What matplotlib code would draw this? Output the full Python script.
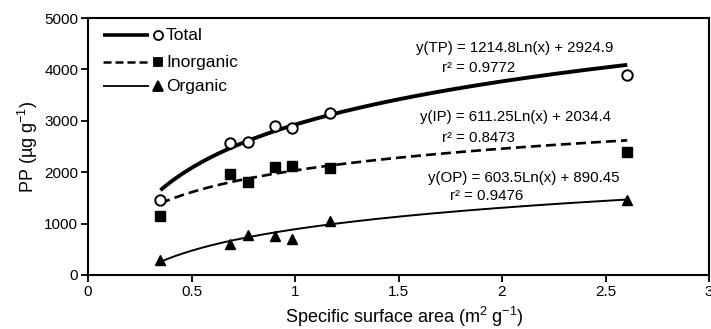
import numpy as np
import matplotlib
matplotlib.use("Agg")
import matplotlib.pyplot as plt
from matplotlib.lines import Line2D

# ---- data ----
x_ssa = [0.35, 0.686, 0.773, 0.903, 0.985, 1.169, 2.605]
total = [1450, 2570, 2590, 2900, 2860, 3150, 3900]
inorganic = [1150, 1970, 1800, 2110, 2130, 2080, 2400]
organic = [290, 600, 770, 760, 700, 1050, 1450]

# logarithmic fit coefficients (slope, intercept) from the chart labels
fit_tp = (1214.8, 2924.9)
fit_ip = (611.25, 2034.4)
fit_op = (603.5, 890.45)

labels = ["Total", "Inorganic", "Organic"]
eq_texts = ["y(TP) = 1214.8Ln(x) + 2924.9", "y(IP) = 611.25Ln(x) + 2034.4", "y(OP) = 603.5Ln(x) + 890.45"]
r2_texts = ["r² = 0.9772", "r² = 0.8473", "r² = 0.9476"]
x_ticks = [0, 0.5, 1, 1.5, 2, 2.5, 3]
x_ticklabels = ['0', '0.5', '1', '1.5', '2', '2.5', '3']
y_ticks = [0, 1000, 2000, 3000, 4000, 5000]

plt.rcParams['font.family'] = ['Liberation Sans', 'DejaVu Sans']
plt.rcParams['mathtext.fontset'] = 'custom'
plt.rcParams['mathtext.rm'] = 'Liberation Sans'

W, H = 711, 329
fig = plt.figure(figsize=(W / 100, H / 100), dpi=100)
L, R, T, B = 88, 709, 18, 275
ax = fig.add_axes([L / W, 1 - B / H, (R - L) / W, (B - T) / H])

xf = np.linspace(min(x_ssa), max(x_ssa), 200)
def fit(c):
    return c[0] * np.log(xf) + c[1]

ax.plot(xf, fit(fit_tp), color='black', lw=2.8, solid_capstyle='butt')
ax.plot(xf, fit(fit_ip), color='black', lw=1.9, ls=(0, (3.8, 1.9)))
ax.plot(xf, fit(fit_op), color='black', lw=1.4)

ax.plot(x_ssa, total, ls='none', marker='o', ms=7.5, mfc='white', mec='black', mew=1.4)
ax.plot(x_ssa, inorganic, ls='none', marker='s', ms=7, mfc='black', mec='black')
ax.plot(x_ssa, organic, ls='none', marker='^', ms=7.5, mfc='black', mec='black')

ax.set_xlim(0, 3)
ax.set_ylim(0, 5000)
ax.set_xticks(x_ticks)
ax.set_xticklabels(x_ticklabels)
ax.set_yticks(y_ticks)
ax.tick_params(direction='out', length=5, width=1.3, labelsize=11, pad=2)
for s in ax.spines.values():
    s.set_linewidth(1.5)

ax.set_xlabel('Specific surface area (m$^2$ g$^{-1}$)', fontsize=13, labelpad=1)
ax.xaxis.set_label_coords(0.51, -0.115)
ax.set_ylabel('PP (µg g$^{-1}$)', fontsize=13, labelpad=3)

# equations
fs_eq = 10.8
ax.text(1.585, 4416, eq_texts[0], fontsize=fs_eq, ha='left', va='center')
ax.text(1.710, 4027, r2_texts[0], fontsize=fs_eq, ha='left', va='center')
ax.text(1.604, 3074, eq_texts[1], fontsize=fs_eq, ha='left', va='center')
ax.text(1.712, 2665, r2_texts[1], fontsize=fs_eq, ha='left', va='center')
ax.text(1.643, 1887, eq_texts[2], fontsize=fs_eq, ha='left', va='center')
ax.text(1.749, 1537, r2_texts[2], fontsize=fs_eq, ha='left', va='center')

# legend drawn in axes coordinates: line, marker at its end, then label
def axc(px, py):
    return (px - L) / (R - L), (B - py) / (B - T)

leg_rows = [35, 62, 86]
leg_styles = [
    dict(lw=2.6, ls='-', marker='o', mfc='white', ms=6.5),
    dict(lw=1.8, ls=(0, (3.2, 1.6)), marker='s', mfc='black', ms=6),
    dict(lw=1.3, ls='-', marker='^', mfc='black', ms=6.5),
]
for py, lab, st in zip(leg_rows, labels, leg_styles):
    x0, y0 = axc(103, py)
    x1, _ = axc(149, py)
    xm, _ = axc(158, py)
    xt, _ = axc(166, py)
    ax.add_line(Line2D([x0, x1], [y0, y0], transform=ax.transAxes, color='black',
                       lw=st['lw'], ls=st['ls'], solid_capstyle='butt'))
    ax.add_line(Line2D([xm], [y0], transform=ax.transAxes, ls='none', marker=st['marker'],
                       ms=st['ms'], mfc=st['mfc'], mec='black', mew=1.3))
    ax.text(xt, y0, lab, transform=ax.transAxes, fontsize=12.5, ha='left', va='center')

fig.savefig('out.png', dpi=100)
